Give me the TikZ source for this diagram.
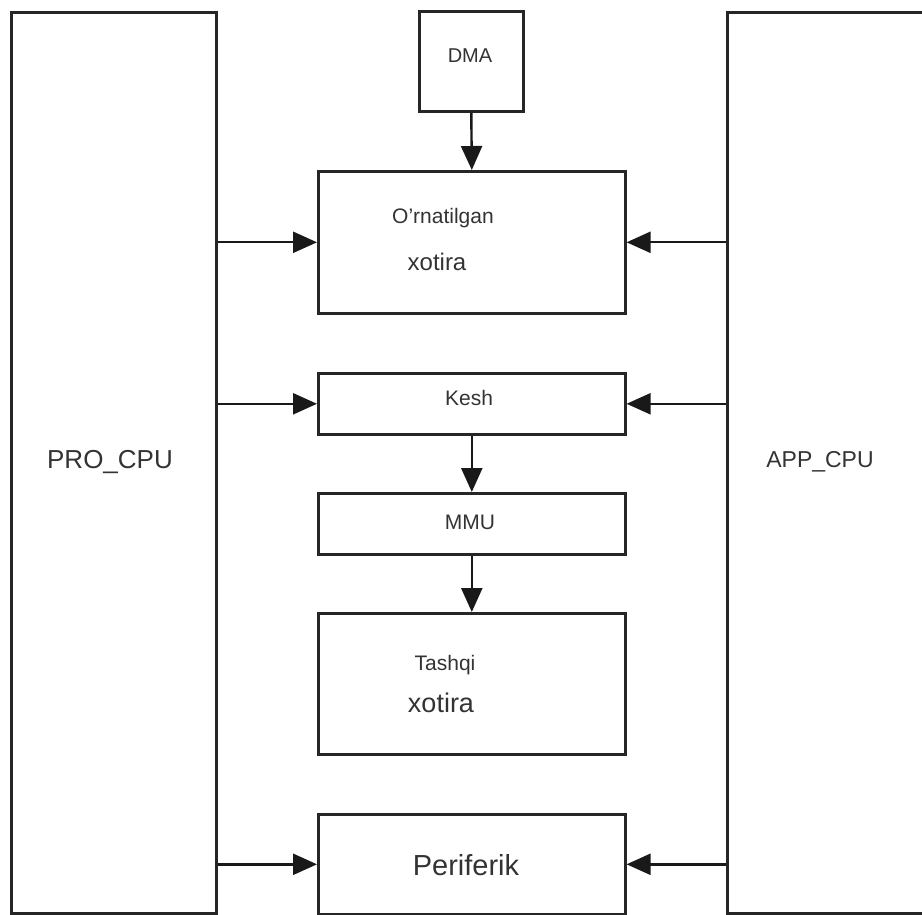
\documentclass[tikz,border=0pt]{standalone}
\usepackage{fontspec}
\setmainfont{Liberation Sans}
\usetikzlibrary{arrows.meta}
\begin{document}
\begin{tikzpicture}[x=1pt,y=-1pt,
  box/.style={draw=black!85, line width=2.6pt, rectangle, inner sep=0pt, anchor=north west},
  lbl/.style={text=black!80, inner sep=0pt},
  conn/.style={draw=black!90, line width=2.4pt, -{Triangle[length=24pt,width=21pt]}}
]
\useasboundingbox (0,0) rectangle (922,915);
\clip (0,0) rectangle (922,915);
% big CPU boxes
\node[box, minimum width=205pt, minimum height=901pt] (pro) at (10,11) {};
\node[box, minimum width=230pt, minimum height=901pt] (app) at (726,11) {};
% central boxes
\node[box, minimum width=104pt, minimum height=100pt] (dma) at (418,10) {};
\node[box, minimum width=307pt, minimum height=142pt] (ornat) at (317,170) {};
\node[box, minimum width=307pt, minimum height=61pt] (kesh) at (317,372) {};
\node[box, minimum width=307pt, minimum height=61pt] (mmu) at (317,492) {};
\node[box, minimum width=307pt, minimum height=141pt] (tash) at (317,612) {};
\node[box, minimum width=307pt, minimum height=100pt] (peri) at (317,813) {};
% labels
\node[lbl, font=\fontsize{26}{30}\selectfont] (prolbl) at (110,462) {PRO\_CPU};
\node[lbl, font=\fontsize{23}{27}\selectfont] (applbl) at (820,462) {APP\_CPU};
\node[lbl, font=\fontsize{20}{24}\selectfont] (dmalbl) at (470,56) {DMA};
\node[lbl, font=\fontsize{21}{25}\selectfont] (ornlbl) at (443,218) {O'rnatilgan};
\node[lbl, font=\fontsize{24}{28}\selectfont] (xot1) at (437,262) {xotira};
\node[lbl, font=\fontsize{21}{25}\selectfont] (keshlbl) at (469,398) {Kesh};
\node[lbl, font=\fontsize{21}{25}\selectfont] (mmulbl) at (470,522) {MMU};
\node[lbl, font=\fontsize{21}{25}\selectfont] (tashlbl) at (445,665) {Tashqi};
\node[lbl, font=\fontsize{27}{31}\selectfont] (xot2) at (441,703) {xotira};
\node[lbl, font=\fontsize{29}{33}\selectfont] (perilbl) at (466,865) {Periferik};
% connectors
\draw[conn] (dma.south) -- (ornat.north);
\draw[conn] (kesh.south) -- (mmu.north);
\draw[conn] (mmu.south) -- (tash.north);
\draw[conn] (pro.east |- ornat.west) -- (ornat.west);
\draw[conn] (pro.east |- kesh.west) -- (kesh.west);
\draw[conn] (pro.east |- peri.west) -- (peri.west);
\draw[conn] (app.west |- ornat.east) -- (ornat.east);
\draw[conn] (app.west |- kesh.east) -- (kesh.east);
\draw[conn] (app.west |- peri.east) -- (peri.east);
\end{tikzpicture}
\end{document}
